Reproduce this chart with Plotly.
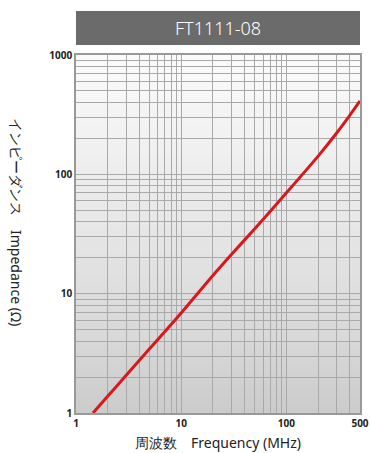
import plotly.graph_objects as go

# --------- data ---------
freq_mhz = [1.45, 2, 3, 5, 10, 20, 30, 50, 100, 200, 300, 400, 500]
impedance_ohm = [1.0, 1.38, 2.07, 3.45, 6.9, 14.2, 21.3, 35, 70, 142, 222, 312, 412]

x_grid = [1, 2, 3, 4, 5, 6, 7, 8, 9, 10, 20, 30, 40, 50, 60, 70, 80, 90, 100,
          200, 300, 400, 500]
x_labels = {1: "1", 10: "10", 100: "100", 500: "500"}
y_grid = [1, 2, 3, 4, 5, 6, 7, 8, 9, 10, 20, 30, 40, 50, 60, 70, 80, 90, 100,
          200, 300, 400, 500, 600, 700, 800, 900, 1000]
y_labels = {1: "1", 10: "10", 100: "100", 1000: "1000"}

title_text = "FT1111-08"
x_title = "周波数　Frequency (MHz)"
y_title = "インピーダンス　Impedance (Ω)"

W, H = 370, 453
ML, MR, MT, MB = 76, 10, 55, 40
plot_h = H - MT - MB


def py(px):
    # pixel row -> paper y
    return (H - MB - px) / plot_h


fig = go.Figure()
fig.add_trace(go.Scatter(
    x=freq_mhz, y=impedance_ohm, mode="lines",
    line=dict(color="#d7191c", width=3, shape="spline", smoothing=0.8),
    hoverinfo="skip", showlegend=False,
))

# vertical background gradient, drawn below the gridlines
shapes = []
n = 60
for i in range(n):
    t = (i + 0.5) / n  # 0 bottom, 1 top
    v = int(round(0xcb + (0xfb - 0xcb) * t ** 0.85))
    shapes.append(dict(type="rect", xref="x domain", yref="y domain",
                       x0=0, x1=1, y0=i / n, y1=(i + 1) / n + 0.002,
                       fillcolor=f"rgb({v},{v},{v})", line=dict(width=0),
                       layer="below"))
# title bar
shapes.append(dict(type="rect", xref="x domain", yref="paper",
                   x0=0, x1=1, y0=py(45), y1=py(11),
                   fillcolor="#6b6b6b", line=dict(width=0)))

fig.update_layout(
    width=W, height=H,
    margin=dict(l=ML, r=MR, t=MT, b=MB),
    paper_bgcolor="white", plot_bgcolor="white",
    shapes=shapes,
    font=dict(family="Noto Sans", color="#222"),
    annotations=[
        dict(text=title_text, xref="x domain", yref="paper", x=0.5, y=py(28),
             showarrow=False, font=dict(size=18, color="white", weight=300),
             xanchor="center", yanchor="middle"),
        dict(text=x_title, xref="x domain", yref="paper", x=0.5, y=py(442),
             showarrow=False, font=dict(size=14, color="#222"),
             xanchor="center", yanchor="middle"),
        dict(text=y_title, xref="paper", yref="paper",
             x=(17 - ML) / (W - ML - MR), y=py(222), textangle=90,
             showarrow=False, font=dict(size=14, color="#222"),
             xanchor="center", yanchor="middle"),
    ],
)

fig.update_xaxes(
    type="log", range=[0, 2.69897], automargin=False,
    tickmode="array", tickvals=x_grid,
    ticktext=[x_labels.get(v, "") for v in x_grid],
    showgrid=True, gridcolor="#a9a9a9", gridwidth=1,
    showline=True, linecolor="#999999", linewidth=1.5, mirror=True,
    ticks="", ticklen=0,
    tickfont=dict(size=10, family="Noto Sans", weight="bold", color="#222"),
    zeroline=False,
)
fig.update_yaxes(
    type="log", range=[0, 3], automargin=False,
    tickmode="array", tickvals=y_grid,
    ticktext=[y_labels.get(v, "") for v in y_grid],
    showgrid=True, gridcolor="#a9a9a9", gridwidth=1,
    showline=True, linecolor="#999999", linewidth=1.5, mirror=True,
    ticks="", ticklen=0,
    tickfont=dict(size=10, family="Noto Sans", weight="bold", color="#222"),
    zeroline=False,
)

fig.write_html("out.html", config={"displayModeBar": False},
               post_script="document.body.style.margin='0';")
